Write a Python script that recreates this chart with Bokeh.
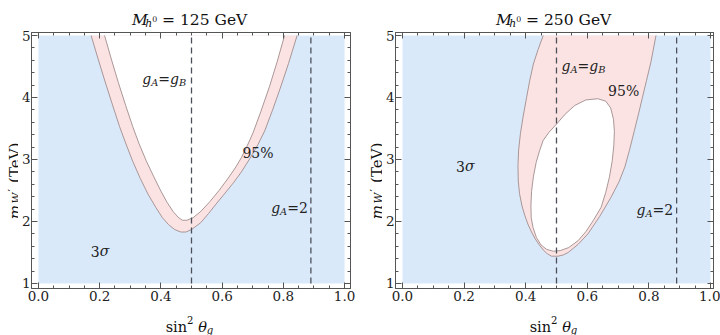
import numpy as np
from bokeh.plotting import figure
from bokeh.models import Label, Range1d, LinearAxis, FixedTicker, PrintfTickFormatter, CustomJSTickFormatter
from bokeh.layouts import row, column
from bokeh.embed import file_html
from bokeh.resources import INLINE

# ---------------- data ----------------
x_ticks = [0.0, 0.2, 0.4, 0.6, 0.8, 1.0]
y_ticks = [1, 2, 3, 4, 5]
x_min, x_max = 0.0, 1.0
y_min, y_max = 1.0, 5.0
dash_x = [0.5, 0.89]          # g_A = g_B  and  g_A = 2

# M_h0 = 125 GeV : 95% band (outer / inner edge of the U)
h125_outer_x = [0.172, 0.195, 0.218, 0.242, 0.265, 0.286, 0.308, 0.333, 0.358, 0.383, 0.405, 0.425,
                0.445, 0.465, 0.482, 0.500, 0.530, 0.556, 0.580, 0.610, 0.638, 0.663, 0.690, 0.717,
                0.739, 0.765, 0.790, 0.817, 0.845]
h125_outer_y = [5.00, 4.62, 4.25, 3.88, 3.53, 3.25, 2.97, 2.69, 2.44, 2.23, 2.06, 1.95,
                1.87, 1.83, 1.83, 1.87, 1.98, 2.13, 2.28, 2.46, 2.63, 2.80, 3.01, 3.24,
                3.46, 3.80, 4.15, 4.55, 5.00]
h125_inner_x = [0.216, 0.238, 0.261, 0.285, 0.308, 0.329, 0.352, 0.376, 0.400, 0.420, 0.440, 0.456,
                0.470, 0.485, 0.505, 0.530, 0.560, 0.590, 0.620, 0.645, 0.663, 0.682, 0.701, 0.727,
                0.755, 0.780, 0.804]
h125_inner_y = [5.00, 4.62, 4.24, 3.87, 3.53, 3.25, 2.98, 2.73, 2.49, 2.31, 2.16, 2.07,
                2.02, 2.02, 2.06, 2.16, 2.32, 2.50, 2.70, 2.88, 3.03, 3.22, 3.43, 3.78,
                4.18, 4.58, 5.00]

# M_h0 = 250 GeV : 95% region (outer) and allowed island (inner, closed)
h250_outer_x = [0.457, 0.440, 0.425, 0.413, 0.403, 0.392, 0.383, 0.377, 0.375, 0.376, 0.380, 0.388,
                0.397, 0.407, 0.419, 0.431, 0.443, 0.457, 0.470, 0.484, 0.505, 0.522, 0.538, 0.570,
                0.602, 0.640, 0.677, 0.703, 0.722, 0.737, 0.753, 0.767, 0.779, 0.792, 0.806, 0.823]
h250_outer_y = [5.00, 4.77, 4.54, 4.27, 4.00, 3.70, 3.42, 3.15, 2.90, 2.65, 2.45, 2.25,
                2.10, 1.96, 1.83, 1.72, 1.63, 1.54, 1.48, 1.44, 1.44, 1.46, 1.50, 1.63,
                1.80, 2.08, 2.39, 2.64, 2.88, 3.15, 3.47, 3.75, 4.00, 4.27, 4.56, 5.00]
h250_inner_x = [0.634, 0.660, 0.676, 0.685, 0.688, 0.686, 0.681, 0.672, 0.660, 0.645, 0.620, 0.596,
                0.570, 0.540, 0.512, 0.490, 0.468, 0.450, 0.435, 0.424, 0.418, 0.417, 0.419, 0.425,
                0.434, 0.445, 0.457, 0.476, 0.500, 0.528, 0.559, 0.595]
h250_inner_y = [3.98, 3.94, 3.83, 3.65, 3.45, 3.22, 2.98, 2.72, 2.47, 2.23, 2.02, 1.84,
                1.69, 1.58, 1.53, 1.52, 1.55, 1.62, 1.74, 1.90, 2.06, 2.25, 2.48, 2.72,
                2.95, 3.14, 3.31, 3.44, 3.57, 3.73, 3.87, 3.96]

# ---------------- style ----------------
FONT = "DejaVu Serif"
BLUE = "#dae9fa"
PINK = "#fce3e3"
EDGE = "#a08c8c"
FRAME = "#555555"
TXT = "#222222"

W = {'M': 0.86, 'h': 0.64, '0': 0.636, '1': 0.636, '2': 0.636, '3': 0.636, '5': 0.636, '9': 0.636,
     ' ': 0.318, '=': 0.838, 'G': 0.775, 'e': 0.592, 'V': 0.733, 's': 0.514, 'i': 0.32, 'n': 0.644,
     'θ': 0.60, 'g': 0.64, 'A': 0.72, 'B': 0.69, 'm': 0.95, 'W': 1.03, '′': 0.30, '(': 0.39,
     ')': 0.39, 'T': 0.67, '%': 0.95, 'σ': 0.64}


def compose(p, x, y, pieces, size, color=TXT, x_off=0.0, y_off=0.0, rotated=False,
            align="center", spread=1.0):
    """pieces: (text, italic, scale, dy_em); leading blanks become offsets."""
    widths = [sum(W.get(c, 0.6) for c in t) * size * sc * spread for (t, it, sc, dy) in pieces]
    pos = -sum(widths) / 2 if align == "center" else 0.0
    for (t, it, sc, dy), w in zip(pieces, widths):
        lead = (len(t) - len(t.lstrip(" "))) * W[' '] * size * sc * spread
        txt = t.lstrip(" ")
        if txt:
            if rotated:
                xo, yo = x_off - dy * size, y_off + pos + lead
            else:
                xo, yo = x_off + pos + lead, y_off + dy * size
            p.add_layout(Label(x=x, y=y, x_offset=xo, y_offset=yo, text=txt, text_font=FONT,
                               text_font_style="italic" if it else "normal",
                               text_font_size=f"{size * sc:.1f}px", text_color=color,
                               text_align="left", text_baseline="alphabetic",
                               angle=(np.pi / 2 if rotated else 0.0)))
        pos += w


def strip(w, h):
    s = figure(width=w, height=h, x_range=Range1d(0, w), y_range=Range1d(0, h),
               output_backend="svg", toolbar_location=None,
               x_axis_location=None, y_axis_location=None, min_border=0)
    s.xgrid.visible = False
    s.ygrid.visible = False
    s.outline_line_color = None
    s.background_fill_color = "white"
    s.border_fill_color = "white"
    return s


def style_axis(ax, ticks, minor, fmt, hidden=False):
    ax.ticker = FixedTicker(ticks=ticks, minor_ticks=minor)
    ax.formatter = fmt
    ax.major_tick_in = 6
    ax.major_tick_out = 0
    ax.minor_tick_in = 3
    ax.minor_tick_out = 0
    ax.major_tick_line_color = FRAME
    ax.minor_tick_line_color = FRAME
    ax.axis_line_color = FRAME
    ax.major_label_text_font = FONT
    ax.major_label_text_font_size = "0px" if hidden else "13.5px"
    ax.major_label_text_color = "#222222"
    ax.major_label_standoff = 0 if hidden else 1


TITLE_H, XLAB_H = 30, 28
MAIN_H = 335 - TITLE_H - XLAB_H      # 277


def panel(title_mass, outer_x, outer_y, inner_x, inner_y, inner_closed, labels,
          ylab_w, b_left, b_right, xs, xe, ylab_x):
    ys, ye = 0.919, 5.048
    main_w = 360 - ylab_w
    p = figure(width=main_w, height=MAIN_H, x_range=Range1d(xs, xe), y_range=Range1d(ys, ye),
               output_backend="svg", toolbar_location=None,
               x_axis_location=None, y_axis_location=None,
               min_border_left=b_left, min_border_right=b_right,
               min_border_top=2, min_border_bottom=19)
    p.xgrid.visible = False
    p.ygrid.visible = False
    p.outline_line_color = FRAME
    p.background_fill_color = "white"
    p.border_fill_color = "white"

    x_minor = [round(v, 3) for v in np.arange(0.0, 1.0001, 0.05)]
    y_minor = [round(v, 3) for v in np.arange(1.0, 5.0001, 0.2)]
    blank = CustomJSTickFormatter(code="return ''")
    bx = LinearAxis(); style_axis(bx, x_ticks, x_minor, PrintfTickFormatter(format="%.1f"))
    bx.major_label_standoff = 2
    tx = LinearAxis(); style_axis(tx, x_ticks, x_minor, blank, hidden=True)
    ly = LinearAxis(); style_axis(ly, y_ticks, y_minor, PrintfTickFormatter(format="%d"))
    ry = LinearAxis(); style_axis(ry, y_ticks, y_minor, blank, hidden=True)
    p.add_layout(bx, "below"); p.add_layout(tx, "above")
    p.add_layout(ly, "left"); p.add_layout(ry, "right")

    # excluded (3 sigma) region
    p.quad(left=[x_min], right=[x_max], bottom=[y_min], top=[y_max],
           fill_color=BLUE, line_color=None)
    # 95% region
    p.patch(outer_x, outer_y, fill_color=PINK, line_color=None)
    p.line(outer_x, outer_y, line_color=EDGE, line_width=0.9)
    # allowed region
    p.patch(inner_x, inner_y, fill_color="white", line_color=None)
    if inner_closed:
        p.line(list(inner_x) + [inner_x[0]], list(inner_y) + [inner_y[0]], line_color=EDGE, line_width=0.9)
    else:
        p.line(inner_x, inner_y, line_color=EDGE, line_width=0.9)
    # benchmark lines
    p.segment(x0=dash_x, y0=[y_min] * len(dash_x), x1=dash_x, y1=[y_max] * len(dash_x),
              line_color="#4a4f5a", line_width=1.3, line_dash="6 4")
    for (lx, ly_, pieces) in labels:
        compose(p, lx, ly_, pieces, 14)

    frame_cx = ylab_w + b_left + (main_w - b_left - b_right) / 2

    # title  M_{h^0} = ... GeV
    t = strip(360, TITLE_H)
    compose(t, frame_cx, TITLE_H - 19.5,
            [("M", True, 1, 0), ("h", True, 0.7, -0.22), ("0", False, 0.5, 0.05),
             (f" = {title_mass} GeV", False, 1, 0)], 15.5, color="#111111")
    # x label  sin^2 theta_g
    xl = strip(360, XLAB_H)
    compose(xl, frame_cx, 9,
            [("sin", False, 1, 0), ("2", False, 0.7, 0.42), (" ", False, 1, 0),
             ("θ", True, 1, 0), ("g", True, 0.7, -0.25)], 14.5, color="#111111")
    # y label  m_{W'} (TeV)
    yl = strip(ylab_w, MAIN_H)
    compose(yl, ylab_x, TITLE_H + MAIN_H - 232,
            [("m", True, 1, 0), ("W", True, 0.7, -0.1), ("′", False, 0.7, 0.15),
             (" (TeV)", False, 1, 0)], 15, color="#111111", rotated=True, align="left",
            spread=1.1)
    return column(t, row(yl, p), xl)


gAgB = [("g", True, 1, 0), ("A", True, 0.7, -0.25), ("=", False, 1, 0), ("g", True, 1, 0), ("B", True, 0.7, -0.25)]
gA2 = [("g", True, 1, 0), ("A", True, 0.7, -0.25), ("=2", False, 1, 0)]
p95 = [("95%", False, 1, 0)]
sig3 = [("3", False, 1, 0), ("σ", True, 1, 0)]

left = panel(125, h125_outer_x, h125_outer_y, h125_inner_x, h125_inner_y, False,
             [(0.41, 4.29, gAgB), (0.717, 3.10, p95), (0.82, 2.21, gA2), (0.20, 1.52, sig3)],
             18, 10, 10, -0.0227, 1.0194, 14)
right = panel(250, h250_outer_x, h250_outer_y, h250_inner_x, h250_inner_y, True,
              [(0.587, 4.50, gAgB), (0.718, 4.10, p95), (0.819, 2.19, gA2), (0.203, 2.89, sig3)],
              22, 11, 7, -0.0226, 1.0097, 16)

layout = row(left, right)
open("out.html", "w").write(file_html(layout, INLINE))
